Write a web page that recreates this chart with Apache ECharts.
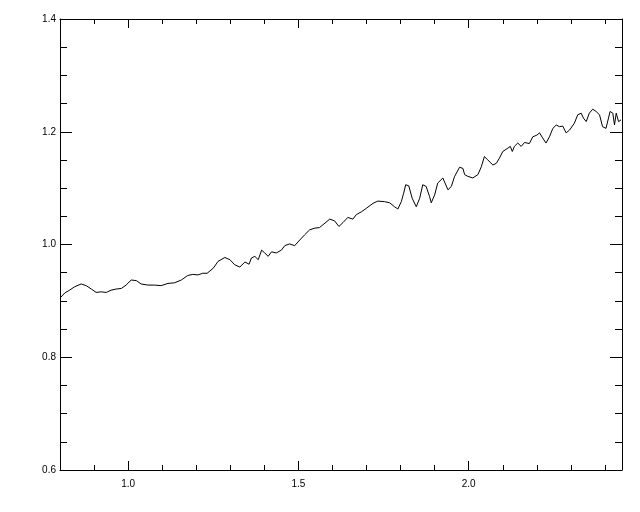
<!DOCTYPE html>
<html>
<head>
<meta charset="utf-8">
<script src="https://cdn.jsdelivr.net/npm/echarts@6/dist/echarts.min.js"></script>
<style>html,body{margin:0;padding:0;background:#fff;}#c{width:640px;height:512px;}</style>
</head>
<body>
<div id="c"></div>
<script>
// Data
const wavelength = [
0.800,0.814,0.828,0.843,0.862,0.877,0.892,0.906,0.921,0.936,0.950,0.965,0.980,0.994,1.009,1.024,1.038,1.058,1.078,1.097,1.117,1.136,1.156,1.175,1.190,1.205,1.219,1.232,
1.250,1.264,1.284,1.299,1.313,1.328,1.343,1.355,1.362,1.372,1.382,1.392,1.401,1.411,1.421,1.435,1.450,1.460,1.474,1.489,1.504,1.518,1.533,1.548,1.562,1.572,
1.592,1.606,1.619,1.631,1.645,1.660,1.670,1.685,1.699,1.719,1.733,1.753,1.768,1.782,1.792,1.802,1.809,1.815,1.824,1.834,1.846,1.856,1.865,1.875,1.885,1.890,1.900,1.909,1.924,1.939,1.949,1.958,1.973,
1.983,1.988,1.997,2.012,2.017,2.027,2.037,2.046,2.056,2.071,2.081,2.090,2.100,2.115,2.122,2.128,2.134,2.144,2.154,2.164,2.178,2.188,2.200,2.208,2.217,2.227,2.237,2.247,2.257,2.266,2.276,2.286,2.296,2.310,2.320,2.330,2.337,2.345,2.354,2.364,2.374,2.384,2.393,2.403,2.408,2.415,2.423,2.428,2.433,2.440,2.447
];
const flux = [
0.905,0.914,0.919,0.925,0.930,0.927,0.921,0.915,0.916,0.915,0.919,0.921,0.922,0.928,0.937,0.936,0.930,0.928,0.928,0.927,0.931,0.932,0.937,0.945,0.947,0.946,0.949,0.949,
0.958,0.970,0.977,0.973,0.964,0.960,0.969,0.965,0.976,0.979,0.973,0.990,0.985,0.979,0.987,0.985,0.990,0.998,1.001,0.998,1.008,1.017,1.026,1.029,1.030,1.035,
1.045,1.042,1.032,1.039,1.048,1.045,1.053,1.058,1.064,1.073,1.077,1.076,1.074,1.067,1.063,1.076,1.091,1.106,1.104,1.082,1.067,1.082,1.106,1.103,1.085,1.074,1.088,1.109,1.118,1.097,1.103,1.120,1.137,
1.135,1.124,1.121,1.118,1.115,1.124,1.138,1.156,1.150,1.141,1.144,1.153,1.165,1.171,1.174,1.165,1.174,1.180,1.174,1.181,1.179,1.191,1.194,1.198,1.189,1.180,1.191,1.206,1.212,1.209,1.210,1.198,1.203,1.215,1.230,1.233,1.224,1.218,1.233,1.240,1.236,1.230,1.209,1.206,1.203,1.236,1.233,1.212,1.233,1.218,1.221
];
const xMajorTicks = [1.0, 1.5, 2.0];
const xMinorTicks = [0.9, 1.1, 1.2, 1.3, 1.4, 1.6, 1.7, 1.8, 1.9, 2.1, 2.2, 2.3, 2.4];
const xMin = 0.8, xMax = 2.45;
const yMin = 0.6, yMax = 1.4, yStep = 0.2;

const pts = wavelength.map((w, i) => [w, flux[i]]);
const FONT = 'Liberation Sans';
const lineStyle = {color: '#000', width: 1};

function xAx(position, ticks, len, showLine, showLabel) {
  return {
    type: 'value', position: position, min: xMin, max: xMax, offset: 0,
    axisLine: {show: showLine, onZero: false, lineStyle: lineStyle},
    axisTick: {show: true, inside: true, length: len, customValues: ticks, lineStyle: lineStyle},
    axisLabel: {show: showLabel, customValues: ticks, margin: 9, color: '#000', fontFamily: FONT, fontSize: 10,
      formatter: v => v.toFixed(1)},
    splitLine: {show: false}
  };
}
function yAx(position, showLabel) {
  return {
    type: 'value', position: position, min: yMin, max: yMax, interval: yStep, offset: 0,
    axisLine: {show: true, onZero: false, lineStyle: lineStyle},
    axisTick: {show: true, inside: true, length: 12, lineStyle: lineStyle},
    minorTick: {show: true, splitNumber: 4, length: 7, lineStyle: lineStyle},
    axisLabel: {show: showLabel, margin: 4, color: '#000', fontFamily: FONT, fontSize: 10,
      formatter: v => v.toFixed(1)},
    splitLine: {show: false}, minorSplitLine: {show: false}
  };
}

const chart = echarts.init(document.getElementById('c'), null, {renderer: 'canvas'});
chart.setOption({
  animation: false,
  backgroundColor: '#fff',
  grid: {left: 60, top: 19, width: 562, height: 451, containLabel: false},
  xAxis: [
    xAx('bottom', xMajorTicks, 9, true, true),
    xAx('bottom', xMinorTicks, 5, false, false),
    xAx('top', xMajorTicks, 9, true, false),
    xAx('top', xMinorTicks, 5, false, false)
  ],
  yAxis: [yAx('left', true), yAx('right', false)],
  series: [{
    type: 'line', xAxisIndex: 0, yAxisIndex: 0, data: pts,
    showSymbol: false, symbol: 'none', lineStyle: {color: '#000', width: 1}, smooth: false
  }]
});
</script>
</body>
</html>
